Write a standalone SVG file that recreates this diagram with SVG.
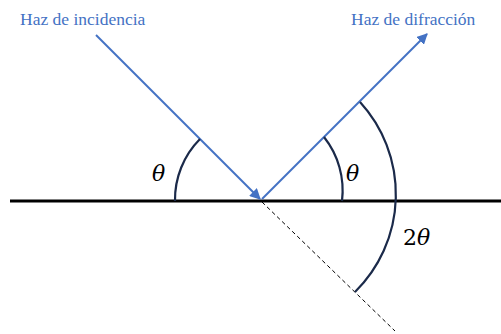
<svg xmlns="http://www.w3.org/2000/svg" width="501" height="334" viewBox="0 0 501 334">
<style>
.lbl{font-size:17.5px;fill:#4472C4}
.ray{stroke:#4472C4;stroke-width:2;fill:none}
.arc{stroke:#1B2A4A;stroke-width:2.2;fill:none}
.sym{font-size:22px;fill:#000}
</style>
<defs>
<marker id="ah" viewBox="0 0 10 10" refX="9" refY="5" markerWidth="5.5" markerHeight="5.5" orient="auto" markerUnits="strokeWidth">
<path d="M0,0 L10,5 L0,10 z" fill="#4472C4"/>
</marker>
<filter id="sh" x="-5%" y="-200%" width="110%" height="500%"><feGaussianBlur stdDeviation="1.2"/></filter>
</defs>
<g id="surface">
<line x1="10" y1="204" x2="501" y2="204" stroke="#9a9a9a" stroke-width="3" filter="url(#sh)"/>
<line x1="10" y1="201" x2="501" y2="201" stroke="#000" stroke-width="3"/>
</g>
<g id="connectors">
<line class="ray" x1="96" y1="35" x2="260" y2="199" marker-end="url(#ah)"/>
<line class="ray" x1="262" y1="199" x2="427" y2="34" marker-end="url(#ah)"/>
<line x1="262" y1="202" x2="395" y2="331" stroke="#000" stroke-width="1" stroke-dasharray="4,3"/>
</g>
<g id="angles">
<path class="arc" d="M175,201 A86,86 0 0 1 200,139"/>
<path class="arc" d="M342,201 A86,86 0 0 0 324,137"/>
<path class="arc" d="M360,102 A137,137 0 0 1 355,292"/>
</g>
<g id="labels">
<text class="lbl" x="20" y="25" font-family="'Liberation Serif', serif">Haz de incidencia</text>
<text class="lbl" x="351" y="25" font-family="'Liberation Serif', serif">Haz de difracción</text>
<text class="sym" x="152" y="181" font-family="'DejaVu Serif', serif" font-style="italic">θ</text>
<text class="sym" x="346" y="181" font-family="'DejaVu Serif', serif" font-style="italic">θ</text>
<text class="sym" x="403" y="245" font-family="'DejaVu Serif', serif">2<tspan font-style="italic">θ</tspan></text>
</g>
</svg>
